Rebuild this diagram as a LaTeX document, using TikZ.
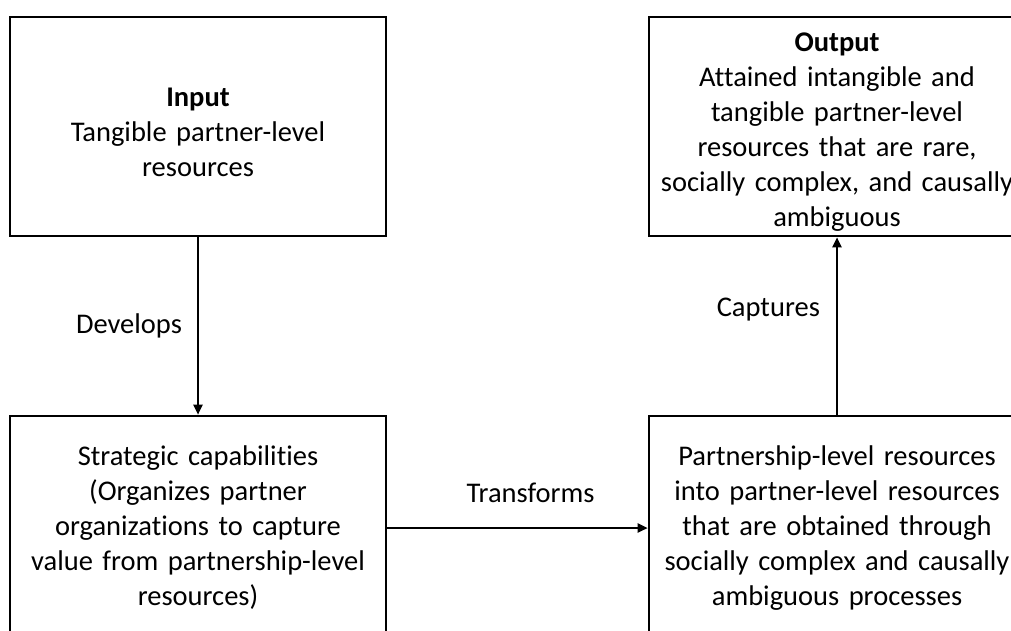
\documentclass[tikz,border=0pt]{standalone}
\usepackage{fontspec}
\setmainfont{Carlito}[Ligatures=NoCommon]
\usetikzlibrary{arrows.meta}
\tikzset{
  stage/.style={draw, line width=2.6pt, minimum width=376pt, text width=370pt, align=center, inner sep=0pt, font=\fontsize{28.5}{35}\selectfont},
  flow/.style={line width=2.2pt, -{Triangle[length=10pt, width=9pt]}},
  verb/.style={inner sep=0pt, font=\fontsize{28.5}{35}\selectfont}
}

\begin{document}
\begin{tikzpicture}[x=1pt, y=-1pt]
    \clip (0,0) rectangle (1011,630);

    % top row
    \node [stage, minimum height=219pt] (input) at (198,126.5) {\rule{0pt}{30pt}\textbf{Input}\\Tangible partner-level\\resources};
    \node [stage, minimum height=219pt] (output) at (837,126.5) {\rule{0pt}{30pt}\textbf{Output}\\Attained intangible and\\tangible partner-level\\resources that are rare,\\socially complex, and causally\\ambiguous};

    % bottom row
    \node [stage, minimum height=224pt] (strat) at (198,528) {Strategic capabilities\\(Organizes partner\\organizations to capture\\value from partnership-level\\resources)};
    \node [stage, minimum height=224pt] (partner) at (837,528) {Partnership-level resources\\into partner-level resources\\that are obtained through\\socially complex and causally\\ambiguous processes};

    % links
    \draw [flow] (input) -- (strat) node [verb, midway, left=15pt] (develops) {Develops};
    \draw [flow] (strat) -- (partner) node [verb, pos=0.55, above=24pt] (transforms) {Transforms};
    \draw [flow] (partner) -- (output) node [verb, pos=0.59, left=16pt] (captures) {Captures};
\end{tikzpicture}
\end{document}
